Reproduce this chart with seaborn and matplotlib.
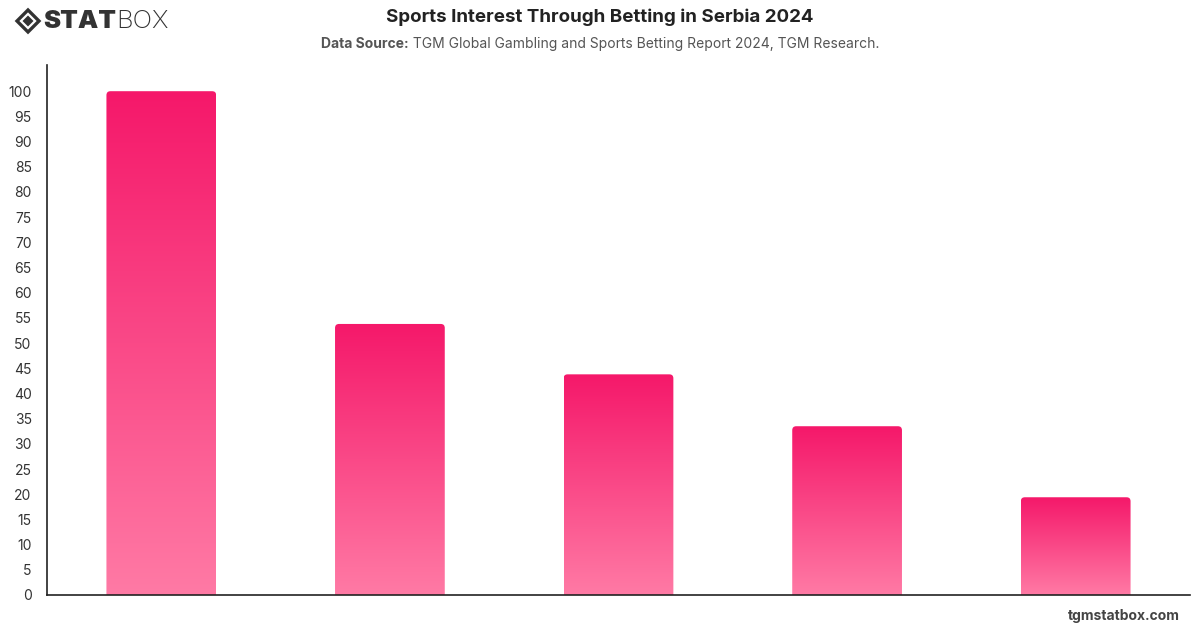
import numpy as np
import pandas as pd
import seaborn as sns
import matplotlib.pyplot as plt
from matplotlib.patches import FancyBboxPatch, Polygon
from matplotlib.colors import LinearSegmentedColormap

# Data (categories are not labelled there)
categories = ['Sport 1', 'Sport 2', 'Sport 3', 'Sport 4', 'Sport 5']
values = [100, 53.8, 43.8, 33.5, 19.4]
y_ticks = list(range(0, 101, 5))

df = pd.DataFrame({'category': categories, 'value': values})

sns.set_theme(style='white')
plt.rcParams['font.family'] = ['Inter', 'DejaVu Sans']

fig = plt.figure(figsize=(12, 6.28), dpi=100)
ax = fig.add_axes([47 / 1200, 33 / 628, 1143 / 1200, 530 / 628])

y_top = 105.2
bar_w = 0.48
sns.barplot(data=df, x='category', y='value', width=bar_w, color='#f5186a',
            ax=ax, saturation=1)

# gradient fill for each bar, with rounded top corners
top_c, bot_c = '#f5186a', '#ff7aa5'
cmap = LinearSegmentedColormap.from_list('pinks', [bot_c, top_c])
grad = np.linspace(0, 1, 256).reshape(-1, 1)

# px per data unit, used to keep the corner rounding circular
px_x = 1143 / 5.0
px_y = 530 / y_top
r = 4 / px_x
aspect = px_x / px_y

for p in list(ax.patches):
    x0 = p.get_x()
    w = p.get_width()
    h = p.get_height()
    p.set_visible(False)
    shape = FancyBboxPatch((x0, -5), w, h + 5,
                           boxstyle=f'round,pad=0,rounding_size={r}',
                           mutation_aspect=aspect,
                           facecolor='none', edgecolor='none')
    ax.add_patch(shape)
    im = ax.imshow(grad, extent=(x0, x0 + w, 0, h), origin='lower',
                   cmap=cmap, aspect='auto', zorder=2)
    im.set_clip_path(shape)

ax.set_xlim(-0.5, 4.5)
ax.set_ylim(0, y_top)

ax.set_yticks(y_ticks)
ax.set_yticklabels([str(t) for t in y_ticks], fontsize=10, color='#333333')
ax.tick_params(axis='y', length=0, pad=11)
ax.set_xticks([])
ax.set_xlabel('')
ax.set_ylabel('')

for side in ['top', 'right']:
    ax.spines[side].set_visible(False)
for side in ['left', 'bottom']:
    ax.spines[side].set_color('#222222')
    ax.spines[side].set_linewidth(1.2)

# titles
fig.text(0.5, 1 - 17 / 628, 'Sports Interest Through Betting in Serbia 2024',
         ha='center', va='center', fontsize=13.5, fontweight='bold', color='#222222')

sub_y = 1 - 44 / 628
a = fig.text(0, sub_y, 'Data Source:', ha='left', va='center', fontsize=10,
             fontweight='bold', color='#555555')
b = fig.text(0, sub_y, ' TGM Global Gambling and Sports Betting Report 2024, TGM Research.',
             ha='left', va='center', fontsize=10, color='#555555')
fig.canvas.draw()
wa = a.get_window_extent().width
wb = b.get_window_extent().width
start = 600 - (wa + wb) / 2
a.set_x(start / 1200)
b.set_x((start + wa) / 1200)

# logo
lx, ly = 28 / 1200, 1 - 21 / 628
dx, dy = 11 / 1200, 11 / 628
fig.patches.append(Polygon([[lx - dx, ly], [lx, ly + dy], [lx + dx, ly], [lx, ly - dy]],
                           closed=True, transform=fig.transFigure,
                           facecolor='none', edgecolor='#333333', linewidth=2.4))
fig.patches.append(Polygon([[lx - dx * 0.5, ly], [lx, ly + dy * 0.5],
                            [lx + dx * 0.5, ly], [lx, ly - dy * 0.5]],
                           closed=True, transform=fig.transFigure,
                           facecolor='#333333', edgecolor='none'))
t = fig.text(43 / 1200, ly, 'STAT', ha='left', va='center', fontsize=18.5,
             fontweight='black', color='#333333')
fig.canvas.draw()
bb = t.get_window_extent()
fig.text(bb.x1 / 1200, ly, 'BOX', ha='left', va='center', fontsize=18.5,
         fontweight='light', color='#333333')

# footer
fig.text(1180 / 1200, 1 - 616 / 628, 'tgmstatbox.com', ha='right', va='center',
         fontsize=10, fontweight='bold', color='#444444')

fig.savefig('out.png', dpi=100, facecolor='white')
